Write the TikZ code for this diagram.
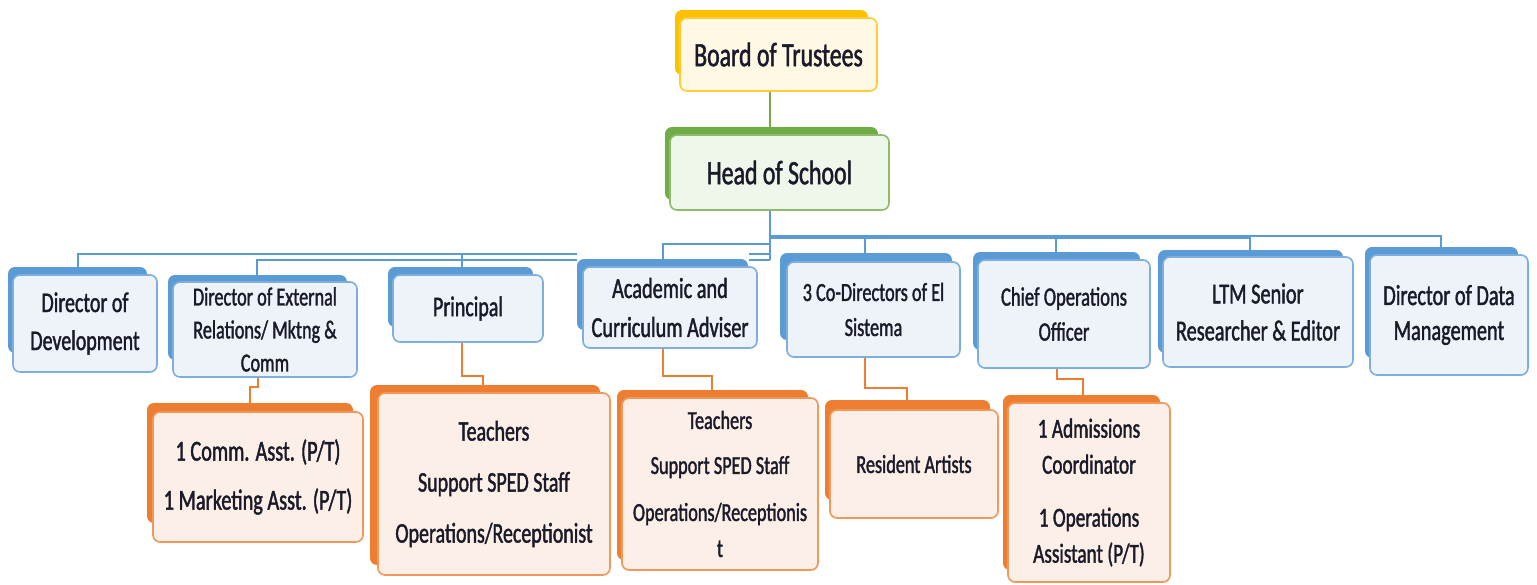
\documentclass[tikz,border=0pt]{standalone}
\usepackage{fontspec}
\setmainfont{Carlito}[FakeStretch=0.7,FakeBold=1.4]
\usetikzlibrary{calc}
\definecolor{blueC}{HTML}{5B9BD5}
\definecolor{blueF}{HTML}{EEF3FA}
\definecolor{orC}{HTML}{ED7D31}
\definecolor{orF}{HTML}{FCEFE8}
\definecolor{grC}{HTML}{70AD47}
\definecolor{grF}{HTML}{EFF6EA}
\definecolor{goC}{HTML}{FFC000}
\definecolor{goF}{HTML}{FFF8E5}
\definecolor{txt}{HTML}{1A1A28}
\pgfdeclarelayer{bg}
\pgfdeclarelayer{mid}
\pgfsetlayers{bg,mid,main}
\newcommand\fs[2]{\fontsize{#1}{#2}\selectfont}
\newcommand\shad[5]{\begin{pgfonlayer}{mid}\fill[#1, rounded corners=7pt] (#2,#3) rectangle (#4,#5);\end{pgfonlayer}}
\tikzset{
  box/.style={draw, line width=1.6pt, rounded corners=7pt, align=center, text=txt, inner sep=0pt},
  bbox/.style={box, draw=blueC!80, fill=blueF},
  obox/.style={box, draw=orC!80, fill=orF},
  gbox/.style={box, draw=grC!80, fill=grF},
  ybox/.style={box, draw=goC!80, fill=goF},
  bl/.style={draw=blueC, line width=2pt},
  blthick/.style={draw=blueC, line width=4pt},
  ol/.style={draw=orC, line width=2pt},
  gl/.style={draw=grC, line width=2pt}
}
\begin{document}
\begin{tikzpicture}[x=1pt,y=-1pt]
\useasboundingbox (0,0) rectangle (1537,584);
\begin{pgfonlayer}{bg}
\fill[white] (0,0) rectangle (1537,584);
\end{pgfonlayer}

% level 1
\shad{goC}{675}{10}{868}{75}
\node[ybox, minimum width=197, minimum height=73, font=\fs{34}{40}] (board) at (778.5,54.5) {Board of Trustees};
\shad{grC}{665}{127}{878}{200}
\node[gbox, minimum width=219, minimum height=75, font=\fs{34}{40}] (head) at (779.5,172.5) {Head of School};

% level 2
\shad{blueC}{8}{267}{147}{353}
\node[bbox, minimum width=144, minimum height=97, font=\fs{28.5}{38}] (dev) at (85,323.5) {Director of\\Development};
\shad{blueC}{168}{275}{347}{360}
\node[bbox, minimum width=184, minimum height=95, font=\fs{26}{33}] (ext) at (265,329.5) {Director of External\\Relations/ Mktng \&\\Comm};
\shad{blueC}{388}{267}{533}{327}
\node[bbox, minimum width=150, minimum height=67, font=\fs{28.5}{36}] (prin) at (468,308.5) {Principal};
\shad{blueC}{577}{259}{748}{330}
\node[bbox, minimum width=174, minimum height=81, font=\fs{29}{39}] (acad) at (670,307.5) {Academic and\\Curriculum Adviser};
\shad{blueC}{780}{253}{952}{340}
\node[bbox, minimum width=173, minimum height=95, font=\fs{26}{35}] (codir) at (873.5,309.5) {3 Co-Directors of El\\Sistema};
\shad{blueC}{973}{252}{1140}{350}
\node[bbox, minimum width=172, minimum height=108, font=\fs{26.5}{35}] (chief) at (1064,314) {Chief Operations\\Officer};
\shad{blueC}{1158}{250}{1343}{353}
\node[bbox, minimum width=190, minimum height=110, font=\fs{29}{37}] (ltm) at (1258,312) {LTM Senior\\Researcher \& Editor};
\shad{blueC}{1365}{247}{1518}{358}
\node[bbox, minimum width=158, minimum height=120, font=\fs{29}{35}] (data) at (1449,315) {Director of Data\\Management};

% level 3
\shad{orC}{147}{403}{353}{523}
\node[obox, minimum width=210, minimum height=130, font=\fs{29}{36}] (comm) at (258,477) {1 Comm. Asst. (P/T)\\[13pt]1 Marketing Asst. (P/T)};
\shad{orC}{370}{385}{600}{565}
\node[obox, minimum width=232, minimum height=182, font=\fs{28.5}{36}] (tch1) at (494,484) {Teachers\\[15pt]Support SPED Staff\\[15pt]Operations/Receptionist};
\shad{orC}{617}{390}{808}{560}
\node[obox, minimum width=196, minimum height=172, font=\fs{26}{36}] (tch2) at (720,484) {Teachers\\[9pt]Support SPED Staff\\[11pt]Operations/Receptionis\\t};
\shad{orC}{825}{400}{990}{500}
\node[obox, minimum width=168, minimum height=108, font=\fs{26}{34}] (res) at (914,464) {Resident Artists};
\shad{orC}{1003}{395}{1160}{570}
\node[obox, minimum width=162, minimum height=179, font=\fs{27.5}{36}] (adm) at (1089,492.5) {1 Admissions\\Coordinator\\[17pt]1 Operations\\Assistant (P/T)};

% connectors
\begin{pgfonlayer}{bg}
\coordinate (tx) at (770,0);
\coordinate (hubR) at (770,237);
\coordinate (hubA) at (770,244);
\coordinate (hubL1) at (770,254);
\coordinate (hubL2) at (770,260);
\coordinate (gapL1) at (577,254);
\coordinate (gapL2) at (577,260);
\coordinate (gapR1) at (749,254);
\coordinate (gapR2) at (749,260);
\draw[gl] (board.south -| tx) -- (head.north -| tx);
\draw[bl] (head.south -| tx) -- (hubL2);
% right branch
\draw[blthick] (hubR) -- (1250,237);
\draw[bl] (1250,236) -- (1441,236) -- ([xshift=-8]data.north);
\draw[bl] ([xshift=-8.5]codir.north) -- ([xshift=-8.5]codir.north |- hubR);
\draw[bl] ([xshift=-8]chief.north) -- ([xshift=-8]chief.north |- hubR);
\draw[bl] ([xshift=-8]ltm.north) -- ([xshift=-8]ltm.north |- hubR);
% academic
\draw[bl] (hubA) -| ([xshift=-7]acad.north);
% left branch (hidden behind the academic box)
\draw[bl] (hubL1) -- (gapR1);
\draw[bl] (hubL2) -- (gapR2);
\draw[bl] (gapL1) -| ([xshift=-7]dev.north);
\draw[bl] (gapL2) -| ([xshift=-8]ext.north);
\draw[bl] ([xshift=-6]prin.north |- hubL1) -- ([xshift=-6]prin.north);
% orange
\draw[ol] ([xshift=-7]ext.south) -- ++(0,9) -| ([xshift=-8]comm.north);
\draw[ol] ([xshift=-6]prin.south) -- ++(0,33) -| ([xshift=-11]tch1.north);
\draw[ol] ([xshift=-7]acad.south) -- ++(0,27) -| ([xshift=-8]tch2.north);
\draw[ol] ([xshift=-8.5]codir.south) -- ++(0,30) -| ([xshift=-7]res.north);
\draw[ol] ([xshift=-7]chief.south) -- ++(0,10) -| ([xshift=-6]adm.north);
\end{pgfonlayer}
\end{tikzpicture}
\end{document}
